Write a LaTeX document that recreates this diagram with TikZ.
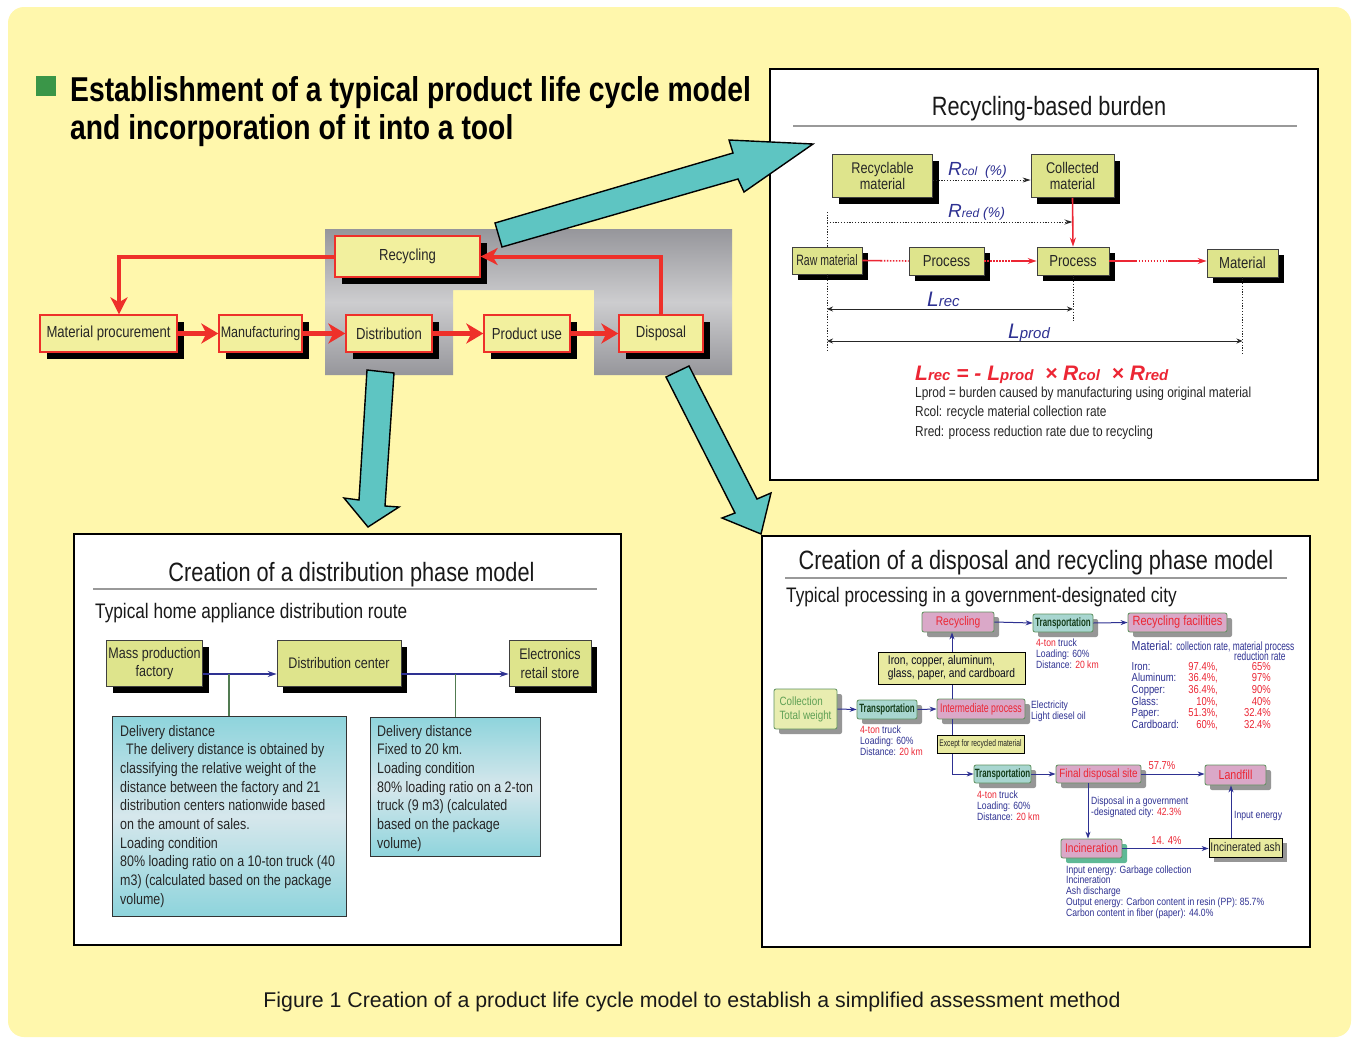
\documentclass[tikz,border=0pt]{standalone}
\usepackage{fontspec}
\setmainfont{Liberation Sans}
\newfontfamily\nar{Liberation Sans}[FakeStretch=0.82]
\newfontfamily\xnar{Liberation Sans}[FakeStretch=0.7]
\newfontfamily\xnarbold{Liberation Sans Bold}[FakeStretch=0.66]
\usetikzlibrary{arrows.meta,shadows,calc}

\definecolor{bgyellow}{RGB}{255,247,172}
\definecolor{flowfill}{RGB}{242,240,158}
\definecolor{flowred}{RGB}{238,48,42}
\definecolor{arrowteal}{RGB}{94,197,194}
\definecolor{navy}{RGB}{46,49,146}
\definecolor{boxolive}{RGB}{222,228,140}
\definecolor{boxpink}{RGB}{218,168,200}
\definecolor{boxaqua}{RGB}{168,214,208}
\definecolor{edgegreen}{RGB}{95,145,95}
\definecolor{textgreen}{RGB}{20,60,25}
\definecolor{lightgreen}{RGB}{232,237,176}
\definecolor{collgreen}{RGB}{95,160,85}
\definecolor{infoteal}{RGB}{142,212,220}
\definecolor{infopale}{RGB}{214,231,236}
\definecolor{bulletgreen}{RGB}{58,150,72}
\definecolor{hotred}{RGB}{236,38,52}
\definecolor{softgrey}{RGB}{150,150,150}
\definecolor{incshadow}{RGB}{95,185,150}
\definecolor{greydark}{RGB}{150,150,155}
\definecolor{greylight}{RGB}{205,205,207}
\definecolor{plainfill}{RGB}{232,234,160}

\newcommand\fs[1]{\fontsize{#1}{#1}\selectfont}
\newcommand\fsl[2]{\fontsize{#1}{#2}\selectfont}
% rows of left-aligned text whose baseline is the first row
\newcommand\linestack[1]{\vtop{\halign{##\hfil\cr#1\crcr}}}

\begin{document}
\begin{tikzpicture}[x=1pt,y=-1pt,
  flowbox/.style={draw=flowred, line width=1.3pt, fill=flowfill, inner sep=0pt,
    font=\nar\fs{16}, text=black!85,
    drop shadow={shadow xshift=7pt, shadow yshift=-7pt, fill=black, opacity=1}},
  flowarrow/.style={draw=flowred, line width=5.5pt, -{Stealth[length=17pt,width=20pt,inset=5pt]}},
  looparrow/.style={draw=flowred, line width=4pt, -{Stealth[length=17pt,width=17pt,inset=5pt]}},
  bigarrow/.style={fill=arrowteal, draw=black, line width=1.4pt, line join=miter},
  panel/.style={draw=black, line width=2.6pt, fill=white},
  panelrule/.style={draw=black!40, line width=2.6pt},
  paneltitle/.style={anchor=base, inner sep=0pt, font=\nar\fs{26.5}, text=black!90},
  solidbox/.style={draw=black!75, line width=0.8pt, fill=boxolive, inner sep=0pt,
    align=center, text=black!85,
    drop shadow={shadow xshift=6pt, shadow yshift=-6pt, fill=black, opacity=1}},
  infobox/.style={draw=black!80, line width=0.9pt, inner sep=0pt,
    top color=infoteal, bottom color=infoteal, middle color=infopale},
  infotext/.style={anchor=base west, inner sep=0pt, font=\nar\fsl{15.2}{18.67}, text=black!85},
  navarrow/.style={draw=navy, line width=1.5pt, -{Stealth[length=9pt,width=6pt]}},
  greenline/.style={draw=edgegreen!85!black, line width=1.2pt},
  redline/.style={draw=hotred, line width=1.6pt},
  reddots/.style={draw=hotred, line width=1.6pt, dash pattern=on 1.5pt off 1.5pt},
  redtip/.style={-{Stealth[length=9pt,width=6pt]}},
  blackdots/.style={draw=black!85, line width=1pt, dash pattern=on 1.2pt off 1.6pt},
  dimline/.style={draw=black!85, line width=0.8pt,
    {Stealth[length=6pt,width=5pt]}-{Stealth[length=6pt,width=5pt]}},
  varlabel/.style={anchor=base west, inner sep=0pt, text=navy, font=\itshape},
  note/.style={anchor=base west, inner sep=0pt, text=black!85, font=\nar\fsl{14.5}{19}},
  greyshadow/.style={drop shadow={shadow xshift=5pt, shadow yshift=-5pt, fill=softgrey, opacity=1}},
  rbox/.style={rounded corners=2pt, draw=edgegreen, line width=0.8pt, inner sep=0pt},
  pinkbox/.style={rbox, greyshadow, fill=boxpink, text=hotred, font=\nar\fs{12.5}},
  transbox/.style={rbox, greyshadow, fill=boxaqua, text=textgreen, font=\xnarbold\fs{12}},
  plainbox/.style={draw=black, line width=0.8pt, fill=plainfill, inner sep=0pt},
  smallarrow/.style={draw=navy, line width=1pt, -{Stealth[length=7pt,width=5pt]}},
  smallnote/.style={anchor=base west, inner sep=0pt, text=navy, font=\nar\fsl{10.5}{11}}
]
\useasboundingbox (0,0) rectangle (1353,1039);
\fill[white] (0,0) rectangle (1353,1039);
\fill[bgyellow, rounded corners=16pt] (8,7) rectangle (1351,1037);

% ---------- heading ----------
\fill[bulletgreen] (36,76) rectangle (56,96);
\node[anchor=base west, inner sep=0pt, font=\nar\bfseries\fs{34.5}] (head1) at (70,101)
  {Establishment of a typical product life cycle model};
\node[anchor=base west, inner sep=0pt, font=\nar\bfseries\fs{34.5}] (head2) at (70,139)
  {and incorporation of it into a tool};

% ---------- life cycle flow ----------
\shade[top color=greydark, bottom color=greydark, middle color=greylight]
  (325,229) -- (732,229) -- (732,375) -- (594,375) -- (594,290) -- (453,290)
  -- (453,375) -- (325,375) -- cycle;

\node[flowbox, minimum width=145pt, minimum height=41pt] (rc) at (407.5,256.5) {Recycling};
\node[flowbox, minimum width=137pt, minimum height=37pt] (mp) at (108.5,333.5) {Material procurement};
\node[flowbox, minimum width=83pt, minimum height=37pt, font=\nar\fs{15.3}] (mf) at (260.5,333.5) {Manufacturing};
\node[flowbox, minimum width=86pt, minimum height=37pt] (ds) at (389,333.5) {Distribution};
\node[flowbox, minimum width=86pt, minimum height=37pt] (pu) at (527,333.5) {Product use};
\node[flowbox, minimum width=84pt, minimum height=37pt] (dp) at (661,333.5) {Disposal};

\draw[flowarrow] (mp.east) -- (mf.west);
\draw[flowarrow] (mf.east) -- (ds.west);
\draw[flowarrow] (ds.east) -- (pu.west);
\draw[flowarrow] (pu.east) -- (dp.west);
\draw[looparrow] (dp.north) |- (rc.east);
\draw[looparrow] (rc.west) -| ([xshift=10.5pt]mp.north);

% ---------- panel: recycling-based burden ----------
\draw[panel] (770,69) rectangle (1318,480);
\node[paneltitle] (tr) at (1049,115) {Recycling-based burden};
\draw[panelrule] (793,126) -- (1297,126);

\node[solidbox, minimum width=100pt, minimum height=43pt, font=\nar\fsl{15.5}{15.5}] (rb) at (882.5,176) {Recyclable\\material};
\node[solidbox, minimum width=83pt, minimum height=43pt, font=\nar\fsl{15.5}{15.5}] (cm) at (1072.5,176) {Collected\\material};
\node[solidbox, minimum width=70pt, minimum height=27pt, font=\xnar\fs{15}] (raw) at (827,260.5) {Raw material};
\node[solidbox, minimum width=75pt, minimum height=28pt, font=\nar\fs{16}] (p1) at (946.5,261) {Process};
\node[solidbox, minimum width=72pt, minimum height=28pt, font=\nar\fs{16}] (p2) at (1073,261) {Process};
\node[solidbox, minimum width=71pt, minimum height=28pt, font=\nar\fs{16}] (mat) at (1242.5,263) {Material};

\coordinate (colrow) at ([yshift=-4pt]rb.east);
\draw[blackdots, -{Stealth[length=8pt,width=5pt]}] (colrow) -- (colrow -| cm.west);
\node[varlabel] (rcol) at (948,175) {{\fs{19}R}{\fs{12}col}{\fs{14}\ \ (\%)}};

\coordinate (redrow) at (0,222);
\draw[blackdots] (raw.north) -- ++(0,-36);
\draw[blackdots, -{Stealth[length=8pt,width=5pt]}] (raw.north |- redrow) -- (cm.south |- redrow);
\node[varlabel] (rred) at (948,217) {{\fs{19}R}{\fs{12}red}{\fs{14} (\%)}};

\draw[redline, redtip] (cm.south) -- (p2.north);

\coordinate (rawA) at ($(raw.east)!0.4!(p1.west)$);
\draw[redline] (raw.east) -- (rawA);
\draw[reddots] (rawA) -- (p1.west);
\coordinate (procA) at ($(p1.east)!0.55!(p2.west)$);
\draw[reddots] (p1.east) -- (procA);
\draw[redline, redtip] (procA) -- (p2.west);
\coordinate (matin) at (p2.east -| mat.west);
\coordinate (matA) at ($(p2.east)!0.27!(matin)$);
\coordinate (matB) at ($(p2.east)!0.6!(matin)$);
\draw[redline] (p2.east) -- (matA);
\draw[reddots] (matA) -- (matB);
\draw[redline, redtip] (matB) -- (matin);

\draw[blackdots] (raw.south) -- ++(0,76);
\draw[blackdots] (p2.south) -- ++(0,46);
\draw[blackdots] (mat.south) -- ++(0,78);
\coordinate (lrecrow) at (0,309);
\coordinate (lprodrow) at (0,341);
\draw[dimline] (raw.south |- lrecrow) -- (p2.south |- lrecrow);
\draw[dimline] (raw.south |- lprodrow) -- (mat.south |- lprodrow);
\node[varlabel] (lrec) at (927,306) {{\fs{21}L}{\fs{15}rec}};
\node[varlabel] (lprod) at (1008,338) {{\fs{21}L}{\fs{15}prod}};

\node[anchor=base west, inner sep=0pt, text=hotred, font=\bfseries\itshape] (formula) at (915,380)
  {{\fs{21}L}{\fs{15}rec}{\fs{21} = - L}{\fs{15}prod}{\fs{21} \ × R}{\fs{15}col}{\fs{21} \ × R}{\fs{15}red}};
\node[note] (n1) at (915,397) {Lprod = burden caused by manufacturing using original material};
\node[note] (n2) at (915,416) {Rcol: recycle material collection rate};
\node[note] (n3) at (915,436) {Rred: process reduction rate due to recycling};

% ---------- panel: distribution phase ----------
\draw[panel] (74,534) rectangle (621,945);
\node[paneltitle] (td) at (351.5,581) {Creation of a distribution phase model};
\draw[panelrule] (93,589) -- (597,589);
\node[anchor=base west, inner sep=0pt, font=\nar\fs{21}, text=black!90] (sd) at (95,618) {Typical home appliance distribution route};

\node[solidbox, minimum width=96pt, minimum height=46pt, font=\nar\fsl{15.3}{18.5}] (fac) at (154.5,663.5) {Mass production\\factory};
\node[solidbox, minimum width=124pt, minimum height=46pt, font=\nar\fs{15.3}] (dc) at (339,663.5) {Distribution center};
\node[solidbox, minimum width=82pt, minimum height=46pt, font=\nar\fsl{15.3}{18.5}] (ret) at (550,663.5) {Electronics\\retail store};

\coordinate (legA) at ([yshift=-10.5pt]fac.east);
\coordinate (legB) at ([yshift=-10.5pt]dc.east);
\draw[navarrow] (legA) -- (legA -| dc.west);
\draw[navarrow] (legB) -- (legB -| ret.west);

\node[infobox, minimum width=234pt, minimum height=200pt] (inf1) at (229,816) {};
\node[infobox, minimum width=170pt, minimum height=139pt] (inf2) at (455.7,787) {};
\draw[greenline] (inf1.north) -- (inf1.north |- legA);
\draw[greenline] (inf2.north) -- (inf2.north |- legB);

\node[infotext] (inf1t) at (120,736) {\linestack{Delivery distance\cr
\hspace*{6pt}The delivery distance is obtained by\cr
classifying the relative weight of the\cr
distance between the factory and 21\cr
distribution centers nationwide based\cr
on the amount of sales.\cr
Loading condition\cr
80\% loading ratio on a 10-ton truck (40\cr
m3) (calculated based on the package\cr
volume)}};
\node[infotext] (inf2t) at (377,736) {\linestack{Delivery distance\cr
Fixed to 20 km.\cr
Loading condition\cr
80\% loading ratio on a 2-ton\cr
truck (9 m3) (calculated\cr
based on the package\cr
volume)}};

% ---------- panel: disposal and recycling phase ----------
\draw[panel] (762,536) rectangle (1310,947);
\node[paneltitle] (tp) at (1036,569) {Creation of a disposal and recycling phase model};
\draw[panelrule] (785,578) -- (1287,578);
\node[anchor=base west, inner sep=0pt, font=\nar\fs{21}, text=black!90] (sp) at (786,602) {Typical processing in a government-designated city};

\node[pinkbox, minimum width=72pt, minimum height=20pt] (rcy) at (958,622) {Recycling};
\node[transbox, minimum width=60pt, minimum height=18pt] (tr1) at (1063,623) {Transportation};
\node[pinkbox, minimum width=99pt, minimum height=19pt, font=\nar\fs{13.4}] (rf) at (1177.5,622.5) {Recycling facilities};
\node[rbox, greyshadow, fill=lightgreen, text=collgreen, align=left, font=\nar\fsl{12}{14},
  minimum width=63pt, minimum height=40pt] (col) at (805.5,709) {Collection\\Total weight};
\node[transbox, minimum width=60pt, minimum height=19pt] (tr2) at (887,709.5) {Transportation};
\node[pinkbox, minimum width=88pt, minimum height=20pt, font=\xnar\fs{12.5}] (ip) at (981,709) {Intermediate process};
\node[transbox, minimum width=57pt, minimum height=18pt] (tr3) at (1002.5,774) {Transportation};
\node[pinkbox, minimum width=85pt, minimum height=18pt, font=\nar\fs{12}] (fd) at (1098.5,774) {Final disposal site};
\node[pinkbox, minimum width=61pt, minimum height=20pt, font=\nar\fs{13}] (lf) at (1235.5,775) {Landfill};
\node[rbox, drop shadow={shadow xshift=5pt, shadow yshift=-5pt, fill=incshadow, opacity=1},
  fill=boxpink, text=hotred, font=\nar\fs{12.5}, minimum width=61pt, minimum height=19pt] (inc) at (1091.5,848.5) {Incineration};
\node[plainbox, greyshadow, minimum width=73pt, minimum height=19pt, font=\nar\fs{12.5}, text=black!85] (ash) at (1245.5,847.5) {Incinerated ash};

\coordinate (trunk) at ([xshift=-6pt]rcy.south);
\draw[smallarrow] (ip.north -| trunk) -- (trunk);
\draw[smallarrow] (ip.south -| trunk) |- (tr3.west);
\node[plainbox, minimum width=147pt, minimum height=32pt, align=left, font=\nar\fsl{12.5}{13.5},
  text=black!80!navy] (iron) at (951.5,668) {Iron, copper, aluminum,\\glass, paper, and cardboard};
\node[plainbox, minimum width=87pt, minimum height=18pt, font=\xnar\fs{9.5}, text=black!85] (exc) at (980.5,744) {Except for recycled material};

\coordinate (incdrop) at ([xshift=-3.5pt]inc.north);
\coordinate (ashrise) at ([xshift=-4.5pt]lf.south);
\draw[smallarrow] (rcy.east) -- (tr1.west);
\draw[smallarrow] (tr1.east) -- (rf.west);
\draw[smallarrow] (col.east) -- (tr2.west);
\draw[smallarrow] (tr2.east) -- (ip.west);
\draw[smallarrow] (tr3.east) -- (fd.west);
\draw[smallarrow] (fd.east) -- (fd.east -| lf.west);
\draw[smallarrow] (fd.south -| incdrop) -- (incdrop);
\draw[smallarrow] (inc.east) -- (inc.east -| ash.west);
\draw[smallarrow] (ash.north -| ashrise) -- (ashrise);

\node[smallnote] (tn1) at (1036,646.5) {\linestack{{\color{hotred}4-ton} truck\cr Loading: 60\%\cr Distance: {\color{hotred}20 km}}};
\node[smallnote] (tn2) at (860,733) {\linestack{{\color{hotred}4-ton} truck\cr Loading: 60\%\cr Distance: {\color{hotred}20 km}}};
\node[smallnote] (tn3) at (977,798) {\linestack{{\color{hotred}4-ton} truck\cr Loading: 60\%\cr Distance: {\color{hotred}20 km}}};
\node[smallnote] (elec) at (1031,708) {\linestack{Electricity\cr Light diesel oil}};
\node[smallnote] (dsp) at (1091,804) {\linestack{Disposal in a government\cr -designated city: {\color{hotred}42.3\%}}};
\node[smallnote] (inen) at (1234,818) {Input energy};
\node[smallnote, font=\nar\fsl{10.5}{10.75}] (incn) at (1066,873) {\linestack{Input energy: Garbage collection\cr
Incineration\cr Ash discharge\cr
Output energy: Carbon content in resin (PP): 85.7\%\cr
Carbon content in fiber (paper): 44.0\%}};
\node[anchor=base, inner sep=0pt, text=hotred, font=\nar\fs{11.5}] (p577) at (1162,769) {57.7\%};
\node[anchor=base, inner sep=0pt, text=hotred, font=\nar\fs{11.5}] (p144) at (1166.5,844) {14. 4\%};

\node[anchor=base west, inner sep=0pt, text=navy] (mhead) at (1131.5,650)
  {{\nar\fs{13}Material:} {\xnar\fs{12}collection rate, material process}};
\node[anchor=base west, inner sep=0pt, text=navy, font=\xnar\fs{12}] (mhead2) at (1234,660) {reduction rate};
\foreach \nm/\cv/\pv [count=\i from 0] in {Iron:/97.4/65, Aluminum:/36.4/97, Copper:/36.4/90,
    Glass:/10/40, Paper:/51.3/32.4, Cardboard:/60/32.4}{
  \node[anchor=base west, inner sep=0pt, text=navy, font=\nar\fs{11.5}] (mn\i) at (1131.5,670+11.67*\i) {\nm};
  \node[anchor=base east, inner sep=0pt, text=hotred, font=\nar\fs{11.5}] (mc\i) at (1218,670+11.67*\i) {\cv\%,};
  \node[anchor=base east, inner sep=0pt, text=hotred, font=\nar\fs{11.5}] (mq\i) at (1271,670+11.67*\i) {\pv\%};
}

% ---------- block arrows between the views ----------
\draw[bigarrow] (495,223) -- (733,153) -- (729,140) -- (813,144) -- (744,192) -- (738,179) -- (502,247) -- cycle;
\draw[bigarrow] (367,370) -- (394,373) -- (385,506) -- (399,507) -- (368,527) -- (344,498) -- (359,500) -- cycle;
\draw[bigarrow] (666,377) -- (689,366) -- (757,499) -- (771,493) -- (761,534) -- (722,518) -- (735,513) -- cycle;

% ---------- caption ----------
\node[anchor=base, inner sep=0pt, font=\fs{21.3}, text=black!90] (cap) at (692,1007)
  {Figure 1 Creation of a product life cycle model to establish a simplified assessment method};
\end{tikzpicture}
\end{document}
